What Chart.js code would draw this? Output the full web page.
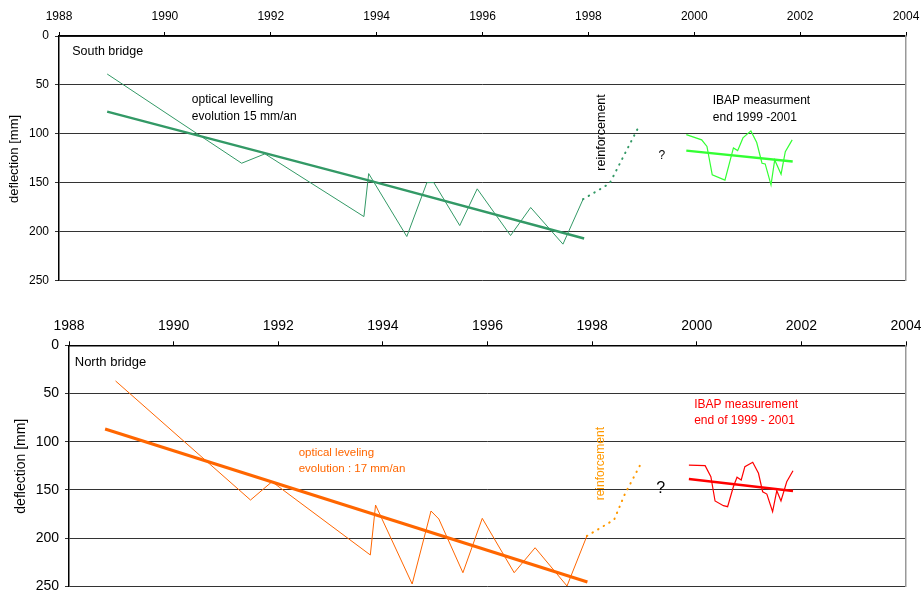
<!DOCTYPE html>
<html>
<head>
<meta charset="utf-8">
<script src="https://cdn.jsdelivr.net/npm/chart.js@4.4.0/dist/chart.umd.min.js"></script>
<style>
  html, body { margin: 0; padding: 0; background: #fff; }
  #wrap { position: relative; width: 921px; height: 594px; overflow: hidden; }
  canvas { position: absolute; left: 0; }
  #c1 { top: 0; }
  #c2 { top: 300px; }
</style>
</head>
<body>
<div id="wrap">
  <canvas id="c1" width="921" height="300"></canvas>
  <canvas id="c2" width="921" height="294"></canvas>
</div>
<script>
// ---- axis ticks ----
const yearTicks = [1988, 1990, 1992, 1994, 1996, 1998, 2000, 2002, 2004];
const deflTicks = [0, 50, 100, 150, 200, 250];

// ---- South bridge ----
const southOptYears = [1988.91, 1991.45, 1991.89, 1993.76, 1993.85, 1994.57, 1994.95, 1995.08, 1995.57, 1995.9, 1996.53, 1996.91, 1997.52, 1997.9];
const southOptDefl  = [38.9, 130.2, 120.6, 184.8, 140.8, 205.2, 150, 150, 194, 156.4, 204.2, 175.5, 213, 167];
const southTrendYears = [1988.91, 1993.9, 1997.92];
const southTrendDefl  = [77.4, 148.5, 207.2];
const southReinfYears = [1997.9, 1998.4, 1998.93];
const southReinfDefl  = [167, 151, 95];
const southIbapYears = [1999.85, 2000.14, 2000.24, 2000.34, 2000.58, 2000.74, 2000.82, 2000.92, 2001.07, 2001.18, 2001.28, 2001.34, 2001.45, 2001.52, 2001.64, 2001.72, 2001.85];
const southIbapDefl  = [100.9, 106.3, 113, 142, 147.5, 114.5, 117.3, 104.3, 97.1, 109, 130.2, 130.9, 152.4, 126.8, 141.4, 118.3, 106.3];
const southIbapTrendYears = [1999.85, 2001.86];
const southIbapTrendDefl  = [117.3, 128.5];

// ---- North bridge ----
const northOptYears = [1988.89, 1991.47, 1991.88, 1993.76, 1993.86, 1994.56, 1994.92, 1995.07, 1995.53, 1995.9, 1996.51, 1996.91, 1997.52, 1997.9];
const northOptDefl  = [37, 160.5, 141.5, 217.5, 165.7, 247.6, 171.9, 180.2, 235.9, 179.5, 235.9, 210, 249.7, 197.8];
const northTrendYears = [1988.69, 1997.91];
const northTrendDefl  = [86.8, 245.5];
const northReinfYears = [1997.9, 1998.42, 1998.62, 1998.92];
const northReinfDefl  = [197.8, 181, 155, 124];
const northIbapYears = [1999.85, 2000.16, 2000.27, 2000.35, 2000.51, 2000.59, 2000.7, 2000.77, 2000.85, 2000.92, 2001.07, 2001.18, 2001.26, 2001.34, 2001.45, 2001.53, 2001.61, 2001.72, 2001.84];
const northIbapDefl  = [124.2, 124.9, 136.3, 161.5, 166.4, 167.4, 146.7, 136.9, 139.7, 125.9, 121.4, 132.8, 151.9, 154.3, 172.6, 150.8, 161.5, 141.5, 130.1];
const northIbapTrendYears = [1999.85, 2001.84];
const northIbapTrendDefl  = [138.7, 151.1];

function pts(xs, ys) { return xs.map((x, i) => ({ x: x, y: ys[i] })); }

const FONT = "'Liberation Sans', Arial, sans-serif";

function ds(xs, ys, color, width, dash) {
  return {
    data: pts(xs, ys),
    borderColor: color,
    borderWidth: width,
    borderDash: dash || [],
    pointRadius: 0,
    tension: 0,
    fill: false,
    borderCapStyle: dash ? 'round' : 'butt'
  };
}

// texts: in data coordinates
const textPlugin = {
  id: 'texts',
  afterDatasetsDraw(chart, args, opts) {
    const ctx = chart.ctx;
    const xs = chart.scales.x, ys = chart.scales.y;
    ctx.save();
    (opts.items || []).forEach(t => {
      ctx.font = (t.size || 12) + 'px ' + FONT;
      ctx.fillStyle = t.color || '#000';
      ctx.textBaseline = 'middle';
      ctx.textAlign = t.align || 'left';
      let px, py;
      if (t.pixel) { px = t.x; py = t.y; }
      else { px = xs.getPixelForValue(t.x); py = ys.getPixelForValue(t.y); }
      if (t.rotate) {
        ctx.save();
        ctx.translate(px, py);
        ctx.rotate(-Math.PI / 2);
        ctx.textAlign = 'center';
        ctx.fillText(t.text, 0, 0);
        ctx.restore();
      } else {
        ctx.fillText(t.text, px, py);
      }
    });
    ctx.restore();
  }
};

function makeChart(id, cfg) {
  return new Chart(document.getElementById(id), {
    type: 'line',
    data: { datasets: cfg.datasets },
    options: {
      responsive: false,
      animation: false,
      devicePixelRatio: 1,
      layout: { padding: { left: 0, right: 15, top: 0, bottom: cfg.padBottom } },
      plugins: {
        legend: { display: false },
        tooltip: { enabled: false },
        texts: { items: cfg.texts }
      },
      scales: {
        x: {
          type: 'linear',
          position: 'top',
          min: 1988, max: 2004,
          afterBuildTicks: s => { s.ticks = yearTicks.map(v => ({ value: v })); },
          afterFit: s => { s.height = cfg.xHeight; s.paddingLeft = 0; s.paddingRight = 0; },
          ticks: {
            color: '#000',
            font: { size: cfg.tickSize, family: FONT },
            padding: cfg.xPad,
            maxRotation: 0,
            autoSkip: false,
            callback: v => String(v)
          },
          grid: { drawOnChartArea: false, drawTicks: true, tickLength: 4, color: '#000', lineWidth: 1 },
          border: { color: '#000', width: 1.5 }
        },
        y: {
          type: 'linear',
          reverse: true,
          min: 0, max: 250,
          afterBuildTicks: s => { s.ticks = deflTicks.map(v => ({ value: v })); },
          afterFit: s => { s.width = cfg.yWidth; s.paddingTop = 0; s.paddingBottom = 0; },
          ticks: {
            color: '#000',
            font: { size: cfg.tickSize, family: FONT },
            padding: 6,
            callback: v => String(v)
          },
          grid: { color: '#333', lineWidth: 1, tickLength: 4 },
          border: { color: '#000', width: 1.5 }
        },
        y2: {
          type: 'linear',
          position: 'right',
          reverse: true,
          min: 0, max: 250,
          afterFit: s => { s.width = 0; s.paddingTop = 0; s.paddingBottom = 0; },
          ticks: { display: false },
          grid: { display: false },
          border: { color: '#999', width: 1.5 }
        }
      }
    },
    plugins: [textPlugin]
  });
}

makeChart('c1', {
  xHeight: 36, yWidth: 59, padBottom: 19.7, tickSize: 12, xPad: 8,
  datasets: [
    ds(southOptYears, southOptDefl, '#339966', 1),
    ds(southTrendYears, southTrendDefl, '#339966', 2.5),
    ds(southReinfYears, southReinfDefl, '#339966', 2, [0.5, 6]),
    ds(southIbapYears, southIbapDefl, '#33ff33', 1.2),
    ds(southIbapTrendYears, southIbapTrendDefl, '#33ff33', 2.5)
  ],
  texts: [
    { text: 'South bridge', x: 1988.25, y: 16, size: 12.5 },
    { text: 'optical levelling', x: 1990.51, y: 65.4, size: 12 },
    { text: 'evolution 15 mm/an', x: 1990.51, y: 82.5, size: 12 },
    { text: 'reinforcement', x: 1998.25, y: 98.7, size: 12.5, rotate: true },
    { text: '?', x: 1999.39, y: 122.7, size: 12, align: 'center' },
    { text: 'IBAP measurment', x: 2000.35, y: 65.7, size: 12 },
    { text: 'end 1999 -2001', x: 2000.35, y: 83.1, size: 12 },
    { text: 'deflection [mm]', x: 14.3, y: 159, size: 13, rotate: true, pixel: true }
  ]
});

makeChart('c2', {
  xHeight: 45.3, yWidth: 69, padBottom: 7.7, tickSize: 14, xPad: 6.4,
  datasets: [
    ds(northOptYears, northOptDefl, '#ff6600', 1),
    ds(northTrendYears, northTrendDefl, '#ff6600', 3),
    ds(northReinfYears, northReinfDefl, '#ff9900', 2, [0.5, 6]),
    ds(northIbapYears, northIbapDefl, '#ff0000', 1.2),
    ds(northIbapTrendYears, northIbapTrendDefl, '#ff0000', 2.5)
  ],
  texts: [
    { text: 'North bridge', x: 1988.11, y: 17.6, size: 13 },
    { text: 'optical leveling', x: 1992.39, y: 112, size: 11.5, color: '#ff6600' },
    { text: 'evolution : 17 mm/an', x: 1992.39, y: 128.3, size: 11.5, color: '#ff6600' },
    { text: 'reinforcement', x: 1998.17, y: 122.8, size: 12, rotate: true, color: '#ff9900' },
    { text: '?', x: 1999.31, y: 148.8, size: 16, align: 'center' },
    { text: 'IBAP measurement', x: 1999.95, y: 61.9, size: 12, color: '#ff0000' },
    { text: 'end of 1999 - 2001', x: 1999.95, y: 78.2, size: 12, color: '#ff0000' },
    { text: 'deflection [mm]', x: 21.3, y: 166.2, size: 14, rotate: true, pixel: true }
  ]
});
</script>
</body>
</html>
